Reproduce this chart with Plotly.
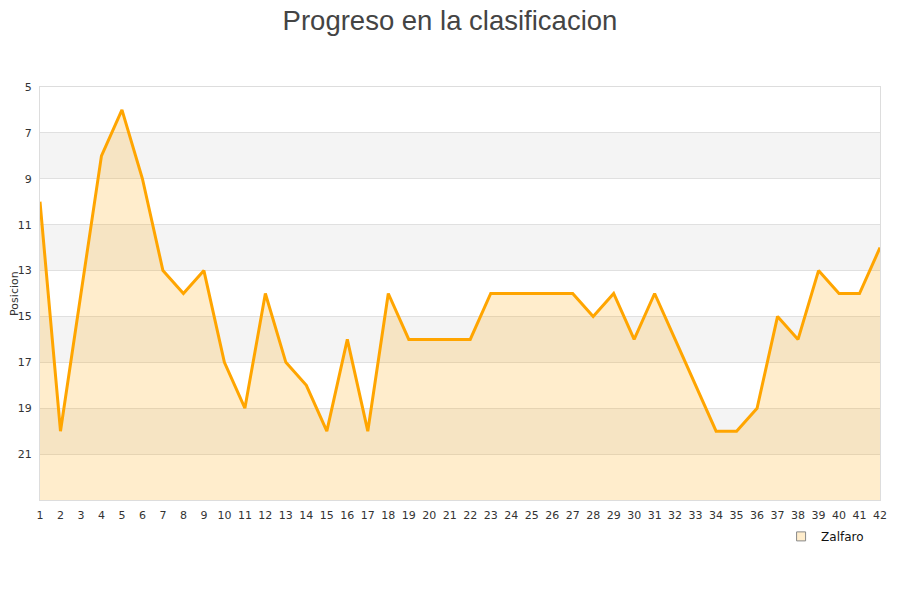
import plotly.graph_objects as go

jornadas = list(range(1, 43))
posicion = [10, 20, 14, 8, 6, 9, 13, 14, 13, 17,
            19, 14, 17, 18, 20, 16, 20, 14, 16, 16,
            16, 16, 14, 14, 14, 14, 14, 15, 14, 16,
            14, 16, 18, 20, 20, 19, 15, 16, 13, 14,
            14, 12]
y_ticks = [5, 7, 9, 11, 13, 15, 17, 19, 21]
bands = [(7, 9), (11, 13), (15, 17), (19, 21)]
team = "Zalfaro"

fig = go.Figure()
fig.add_trace(go.Scatter(x=jornadas, y=[23] * len(jornadas), mode="lines",
                         line=dict(width=0), showlegend=False, hoverinfo="skip"))
fig.add_trace(go.Scatter(x=jornadas, y=posicion, mode="lines", fill="tonexty",
                         fillcolor="rgba(255,165,0,0.2)",
                         line=dict(color="#ffa500", width=3), showlegend=False))
fig.add_trace(go.Scatter(x=[None], y=[None], mode="markers", name=team,
                         marker=dict(symbol="square", size=9, color="#ffedcc",
                                     line=dict(color="#888", width=1))))

for a, b in bands:
    fig.add_shape(type="rect", xref="paper", yref="y", x0=0, x1=1, y0=a, y1=b,
                  fillcolor="rgba(0,0,0,0.045)", line=dict(width=0), layer="below")

fig.add_annotation(text="Posicion", xref="paper", yref="paper", x=-0.0305, y=0.5,
                   xanchor="center", yanchor="middle", textangle=-90, showarrow=False,
                   font=dict(size=11, color="#333"))

fig.update_layout(
    width=892, height=592,
    paper_bgcolor="white", plot_bgcolor="white",
    margin=dict(l=32, r=20, t=79, b=100, autoexpand=False),
    title=dict(text="Progreso en la clasificacion", xref="container", x=0.4955,
               xanchor="center", y=0.995, yanchor="top",
               font=dict(family="Liberation Sans", size=27.5, color="#444")),
    font=dict(family="DejaVu Sans", size=11, color="#333"),
    showlegend=True,
    legend=dict(x=0.987, y=-0.053, xanchor="right", yanchor="top",
                font=dict(size=12, color="#111"), bgcolor="rgba(0,0,0,0)"),
    xaxis=dict(range=[1, 42], tickmode="array", tickvals=jornadas, automargin=False,
               showgrid=False, zeroline=False, showline=True, linecolor="#ddd",
               mirror=True, ticks="", ticklabelstandoff=5,
               tickfont=dict(size=11, color="#333")),
    yaxis=dict(range=[23, 5], tickmode="array", tickvals=y_ticks, automargin=False,
               showgrid=True, gridcolor="#e0e0e0", zeroline=False,
               showline=True, linecolor="#ddd", mirror=True, ticks="",
               ticklabelstandoff=5,
               tickfont=dict(size=11, color="#333")),
)

fig.write_html("out.html")
